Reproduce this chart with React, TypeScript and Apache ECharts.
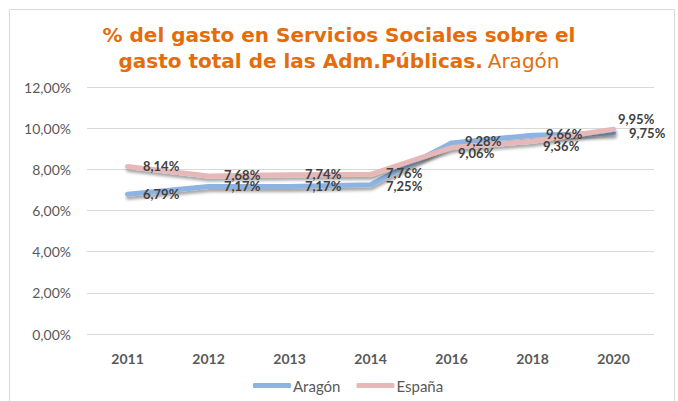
import React, { useEffect, useRef } from "react";
import * as echarts from "echarts";

const categories = ["2011", "2012", "2013", "2014", "2016", "2018", "2020"];
const aragon = [6.79, 7.17, 7.17, 7.25, 9.28, 9.66, 9.75];
const espana = [8.14, 7.68, 7.74, 7.76, 9.06, 9.36, 9.95];
const seriesNames = ["Aragón", "España"];
const titleLine1 = "% del gasto en Servicios Sociales sobre el";
const titleLine2Bold = "gasto total de las Adm.Públicas.";
const titleLine2Normal = "Aragón";

// label nudges (pixels) per point
const aragonLabelOffsets: [number, number][] = [[0, 0], [0, 0], [0, 0], [0, 1], [-2, -2], [-2, -1], [0, 0]];
const espanaLabelOffsets: [number, number][] = [[0, 0], [0, -1], [0, -1], [0, -1], [-9, 5], [-5, 5], [-11, -10]];

const fmt = (v: number) => v.toFixed(2).replace(".", ",") + "%";

export default function App() {
  const ref = useRef<HTMLDivElement>(null);
  useEffect(() => {
    document.body.style.margin = "0";
    if (!ref.current) return;
    const chart = echarts.init(ref.current, undefined, { renderer: "svg" });
    const labelStyle = {
      show: true,
      position: "right" as const,
      distance: 15,
      fontFamily: "Lato",
      fontWeight: "bold" as const,
      fontSize: 13,
      lineHeight: 11,
      color: "#404040",
      opacity: 1,
      formatter: (p: any) => fmt(p.value),
    };
    const lineSeries = (name: string, vals: number[], offs: [number, number][], color: string) => ({
      name,
      type: "line",
      data: vals,
      showSymbol: true,
      symbol: "circle",
      symbolSize: 1,
      itemStyle: { color: "rgba(0,0,0,0)", borderWidth: 0 },
      color,
      lineStyle: {
        width: 5,
        color,
        cap: "round",
        join: "round",
        shadowColor: "rgba(0,0,0,0.35)",
        shadowBlur: 3,
        shadowOffsetX: 1,
        shadowOffsetY: 3,
      },
      label: labelStyle,
      labelLayout: (p: any) => ({
        hideOverlap: false,
        dx: offs[p.dataIndex][0],
        dy: offs[p.dataIndex][1],
      }),
      z: 2,
    });
    chart.setOption({
      animation: false,
      backgroundColor: "#ffffff",
      graphic: [
        {
          type: "rect",
          shape: { x: 9.5, y: 9.5, width: 665, height: 400 },
          style: { fill: "none", stroke: "#d9d9d9", lineWidth: 1 },
          silent: true,
        },
      ],
      title: {
        left: "center",
        top: 17,
        text: `{b|${titleLine1}}\n{b|${titleLine2Bold}} {n|${titleLine2Normal}}`,
        textStyle: {
          rich: {
            b: {
              fontFamily: "DejaVu Sans",
              fontWeight: "bold",
              fontSize: 20,
              color: "#E46C0A",
              lineHeight: 26,
            },
            n: {
              fontFamily: "DejaVu Sans",
              fontWeight: "normal",
              fontSize: 20,
              color: "#E46C0A",
              lineHeight: 26,
            },
          },
        },
      },
      legend: {
        bottom: 3,
        left: 248,
        itemWidth: 38,
        itemHeight: 5,
        itemGap: 16,
        icon: "roundRect",
        textStyle: { fontFamily: "Lato", fontSize: 15, color: "#595959", padding: [0, 0, 0, -3] },
        data: seriesNames.map((n, i) => ({
          name: n,
          itemStyle: { color: i === 0 ? "#8DB3E2" : "#E6B9B8", opacity: 1 },
        })),
      },
      grid: { left: 87, right: 24, top: 87, bottom: 67, containLabel: false },
      xAxis: {
        type: "category",
        data: categories,
        boundaryGap: true,
        axisLine: { show: false },
        axisTick: { show: false },
        axisLabel: {
          margin: 17,
          fontFamily: "Lato",
          fontWeight: "bold",
          fontSize: 14,
          color: "#595959",
        },
      },
      yAxis: {
        type: "value",
        min: 0,
        max: 12,
        interval: 2,
        axisLine: { show: false },
        axisTick: { show: false },
        splitLine: { lineStyle: { color: "#d9d9d9", width: 1 } },
        axisLabel: {
          margin: 16,
          fontFamily: "Lato",
          fontSize: 14,
          color: "#595959",
          formatter: (v: number) => fmt(v),
        },
      },
      series: [
        lineSeries(seriesNames[0], aragon, aragonLabelOffsets, "#8DB3E2"),
        lineSeries(seriesNames[1], espana, espanaLabelOffsets, "#E6B9B8"),
      ],
    });
    return () => chart.dispose();
  }, []);
  return <div ref={ref} style={{ width: 678, height: 401 }} />;
}
